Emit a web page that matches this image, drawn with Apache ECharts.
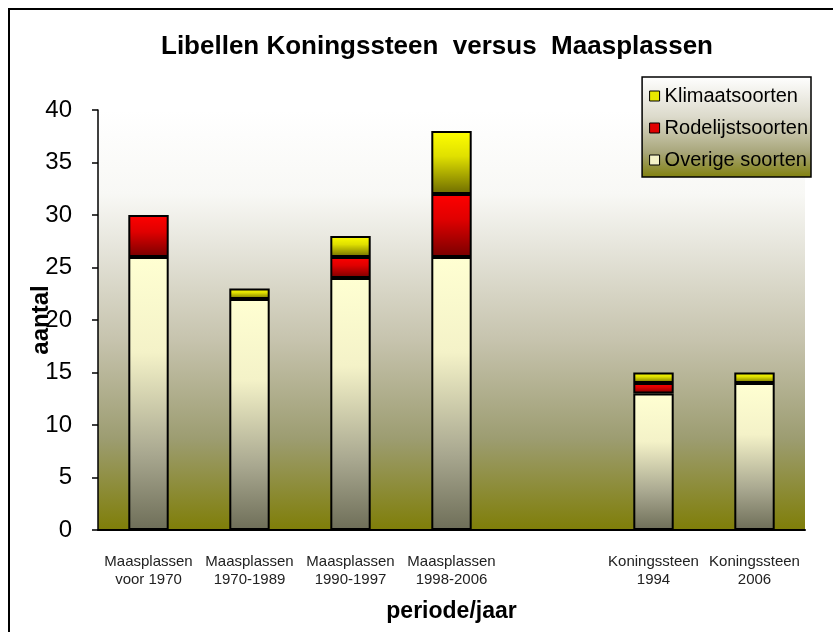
<!DOCTYPE html>
<html>
<head>
<meta charset="utf-8">
<script src="https://cdn.jsdelivr.net/npm/echarts@6/dist/echarts.min.js"></script>
<style>
  html, body { margin: 0; padding: 0; background: #fff; }
  #chart { width: 833px; height: 632px; }
</style>
</head>
<body>
<div id="chart"></div>
<script>
// categories (empty slot between Maasplassen and Koningssteen)
const categories = [
    "Maasplassen\nvoor 1970",
    "Maasplassen\n1970-1989",
    "Maasplassen\n1990-1997",
    "Maasplassen\n1998-2006",
    "",
    "Koningssteen\n1994",
    "Koningssteen\n2006"
];
const overigeSoorten = [26, 22, 24, 26, null, 13, 14];
const rodelijstSoorten = [4, 0, 2, 6, null, 1, 0];
const klimaatSoorten = [0, 1, 2, 6, null, 1, 1];
const yTicks = [0, 5, 10, 15, 20, 25, 30, 35, 40];

const font = "Liberation Sans";
const grad = (stops) => new echarts.graphic.LinearGradient(0, 0, 0, 1,
    stops.map(s => ({ offset: s[0], color: s[1] })));

// nul-waarden niet tekenen
const clean = arr => arr.map(v => (v === 0 || v === null) ? '-' : v);

const chart = echarts.init(document.getElementById('chart'));

const barBase = {
    type: 'bar',
    stack: 'totaal',
    barWidth: '40%',
    animation: false
};

const option = {
    title: {
        text: "Libellen Koningssteen  versus  Maasplassen",
        left: 156,
        top: 29,
        textStyle: { fontFamily: font, fontSize: 26, fontWeight: 'bold', color: '#000' }
    },
    legend: {
        orient: 'vertical',
        right: 22,
        top: 77,
        padding: [9, 3, 7, 7],
        itemGap: 12,
        itemWidth: 10,
        itemHeight: 10,
        icon: 'rect',
        selectedMode: false,
        borderColor: '#000',
        borderWidth: 1.5,
        backgroundColor: grad([[0, '#ffffff'], [0.4, '#dcdacb'], [0.75, '#a8a67a'], [1, '#80800c']]),
        textStyle: { fontFamily: font, fontSize: 20, lineHeight: 20, color: '#000' },
        data: [
            { name: 'Klimaatsoorten', itemStyle: { color: '#e8e800', borderColor: '#000', borderWidth: 1 } },
            { name: 'Rodelijstsoorten', itemStyle: { color: '#e00000', borderColor: '#000', borderWidth: 1 } },
            { name: 'Overige soorten', itemStyle: { color: '#f4f2c8', borderColor: '#000', borderWidth: 1 } }
        ]
    },
    grid: {
        left: 98,
        right: 28,
        top: 110,
        bottom: 102,
        show: true,
        borderWidth: 0,
        backgroundColor: grad([[0, '#ffffff'], [0.2, '#f8f8f5'], [0.55, '#c6c3ad'], [0.78, '#9d9d72'], [1, '#7f7e08']])
    },
    xAxis: {
        type: 'category',
        data: categories,
        name: 'periode/jaar',
        nameLocation: 'middle',
        nameGap: 70,
        nameTextStyle: { fontFamily: font, fontSize: 23, fontWeight: 'bold', color: '#000' },
        axisLine: { lineStyle: { color: '#000', width: 2 } },
        axisTick: { show: false },
        axisLabel: {
            fontFamily: font, fontSize: 15, color: '#222', lineHeight: 18,
            margin: 23, interval: 0
        }
    },
    yAxis: {
        type: 'value',
        min: yTicks[0],
        max: yTicks[yTicks.length - 1],
        interval: 5,
        name: 'aantal',
        nameLocation: 'middle',
        nameGap: 45,
        nameMoveOverlap: false,
        nameRotate: 90,
        nameTextStyle: { fontFamily: font, fontSize: 24, fontWeight: 'bold', color: '#000' },
        axisLine: { show: true, lineStyle: { color: '#000', width: 1.5 } },
        axisTick: { show: true, length: 6, lineStyle: { color: '#000', width: 1.5 } },
        splitLine: { show: false },
        axisLabel: { fontFamily: font, fontSize: 24, color: '#000', margin: 26 }
    },
    series: [
        Object.assign({}, barBase, {
            name: 'Overige soorten',
            data: clean(overigeSoorten),
            itemStyle: {
                color: grad([[0, '#ffffd2'], [0.35, '#f4f2c8'], [0.72, '#a9a890'], [1, '#6e6e58']]),
                borderColor: '#000', borderWidth: 2
            }
        }),
        Object.assign({}, barBase, {
            name: 'Rodelijstsoorten',
            data: clean(rodelijstSoorten),
            itemStyle: {
                color: grad([[0, '#ff0000'], [0.4, '#e00000'], [1, '#780000']]),
                borderColor: '#000', borderWidth: 2
            }
        }),
        Object.assign({}, barBase, {
            name: 'Klimaatsoorten',
            data: clean(klimaatSoorten),
            itemStyle: {
                color: grad([[0, '#ffff00'], [0.4, '#e0e000'], [1, '#6e6c00']]),
                borderColor: '#000', borderWidth: 2
            }
        })
    ],
    graphic: [{
        type: 'rect',
        shape: { x: 9, y: 9, width: 900, height: 700 },
        style: { fill: 'none', stroke: '#000', lineWidth: 2 },
        silent: true
    }]
};

chart.setOption(option);
</script>
</body>
</html>
